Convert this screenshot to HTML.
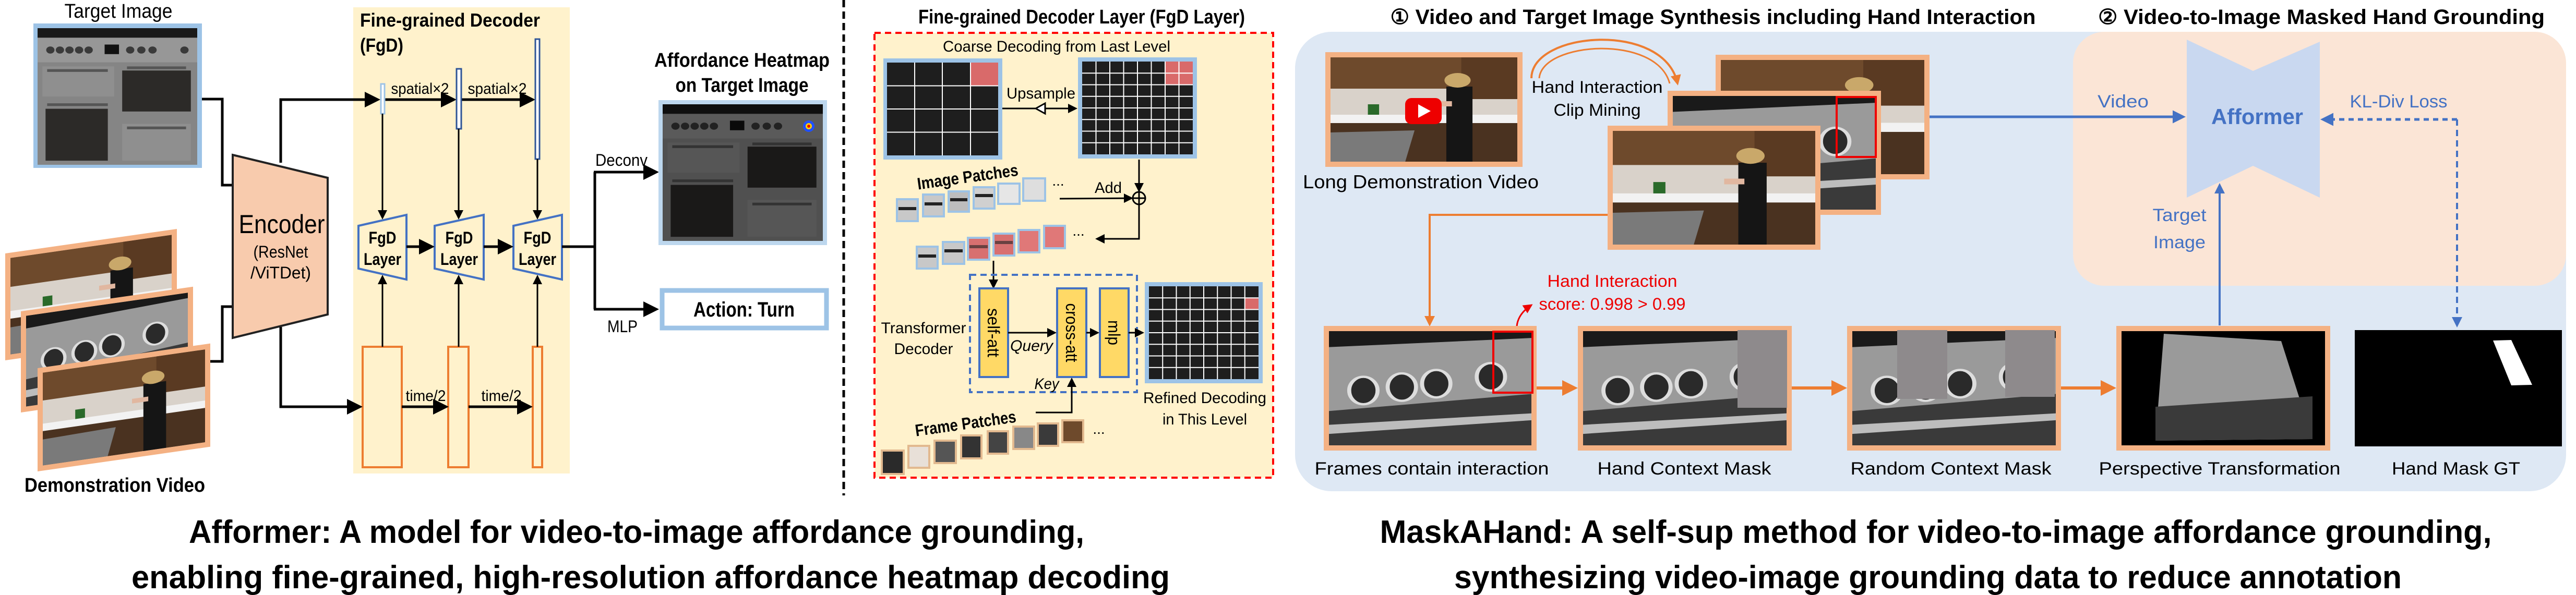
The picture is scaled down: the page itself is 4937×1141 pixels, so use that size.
<!DOCTYPE html>
<html><head><meta charset="utf-8"><style>html,body{margin:0;padding:0;background:#fff}svg{display:block}text{font-family:"Liberation Sans Narrow","Liberation Sans",sans-serif}</style></head><body>
<svg width="4937" height="1141" viewBox="0 0 4937 1141" xmlns="http://www.w3.org/2000/svg">
<defs>
<marker id="ak" markerWidth="6" markerHeight="6" refX="5" refY="3" orient="auto" markerUnits="strokeWidth"><path d="M0,0 L6,3 L0,6 z" fill="#000"/></marker>
<marker id="ab" markerWidth="5" markerHeight="5" refX="4" refY="2.5" orient="auto" markerUnits="strokeWidth"><path d="M0,0 L5,2.5 L0,5 z" fill="#4472c4"/></marker>
<marker id="ab2" markerWidth="5" markerHeight="5" refX="1" refY="2.5" orient="auto" markerUnits="strokeWidth"><path d="M5,0 L0,2.5 L5,5 z" fill="#4472c4"/></marker>
<marker id="ao" markerWidth="5" markerHeight="5" refX="4" refY="2.5" orient="auto" markerUnits="strokeWidth"><path d="M0,0 L5,2.5 L0,5 z" fill="#ed7d31"/></marker>
<marker id="ar" markerWidth="6" markerHeight="6" refX="5" refY="3" orient="auto" markerUnits="strokeWidth"><path d="M0,0 L6,3 L0,6 z" fill="#e00"/></marker>
<symbol id="stove" viewBox="0 0 100 100" preserveAspectRatio="none">
<rect width="100" height="100" fill="#858585"/><rect width="100" height="7" fill="#1a1a1a"/><rect y="7" width="100" height="18" fill="#979797"/>
<g fill="#3a3a3a"><circle cx="8" cy="16" r="2.6"/><circle cx="14" cy="16" r="2.6"/><circle cx="20" cy="16" r="2.6"/><circle cx="26" cy="16" r="2.6"/><circle cx="32" cy="16" r="2.6"/><circle cx="58" cy="16" r="2.6"/><circle cx="65" cy="16" r="2.6"/><circle cx="72" cy="16" r="2.6"/><circle cx="92" cy="16" r="2.6"/><rect x="42" y="12" width="9" height="7" fill="#111"/></g>
<rect x="3" y="28" width="45" height="22" fill="#8f8f8f"/><rect x="6" y="30" width="38" height="2" fill="#555"/><rect x="6" y="55" width="38" height="2" fill="#555"/>
<rect x="5" y="59" width="39" height="38" fill="#2c2a28"/><rect x="53" y="31" width="43" height="30" fill="#2c2a28"/><rect x="53" y="70" width="43" height="27" fill="#8f8f8f"/><rect x="56" y="72" width="37" height="2" fill="#555"/><rect x="56" y="28" width="37" height="2" fill="#555"/>
</symbol>
<symbol id="kitchen" viewBox="0 0 100 100" preserveAspectRatio="none">
<rect width="100" height="100" fill="#d9d2ca"/><rect width="100" height="30" fill="#6e4a2c"/><rect x="70" width="30" height="40" fill="#5a3a22"/>
<rect y="55" width="100" height="8" fill="#f2f2f2"/><rect y="63" width="100" height="37" fill="#4a3220"/>
<polygon points="0,72 45,70 40,100 0,100" fill="#7a7a7a"/><rect x="20" y="45" width="6" height="10" fill="#2a6a2a"/>
<rect x="62" y="28" width="14" height="72" fill="#151515"/><circle cx="68" cy="22" r="7" fill="#c9a86a"/><rect x="55" y="42" width="10" height="5" fill="#e1b7a0"/>
</symbol>
<symbol id="knob" viewBox="0 0 100 100" preserveAspectRatio="none">
<rect width="100" height="100" fill="#9a9a9a"/><polygon points="0,0 100,0 100,6 0,14" fill="#1a1a1a"/>
<polygon points="0,70 100,55 100,100 0,100" fill="#3a3a3a"/><polygon points="0,82 100,72 100,78 0,90" fill="#bdbdbd"/>
<g fill="#2a2a2a" stroke="#ddd" stroke-width="2"><ellipse cx="17" cy="52" rx="7" ry="12"/><ellipse cx="36" cy="49" rx="7" ry="12"/><ellipse cx="53" cy="46" rx="7" ry="12"/><ellipse cx="80" cy="40" rx="7" ry="12"/></g>
</symbol>
</defs>

<!-- ============ LEFT: Afformer ============ -->
<rect x="677" y="14" width="415" height="894" fill="#fff2cc"/>
<text x="227" y="34" font-size="38" text-anchor="middle" textLength="207" lengthAdjust="spacingAndGlyphs">Target Image</text>
<rect x="64" y="45" width="323" height="277" fill="#9dc3e6"/>
<use href="#stove" x="72" y="54" width="306" height="262"/>

<!-- demo video frames -->
<g transform="translate(10,486) matrix(1,-0.143,0,1,0,0)"><rect width="329" height="205" fill="#f4b183"/><use href="#kitchen" x="10" y="10" width="309" height="185"/></g>
<g transform="translate(40,597) matrix(1,-0.143,0,1,0,0)"><rect width="330" height="194" fill="#f4b183"/><use href="#knob" x="10" y="10" width="310" height="174"/></g>
<g transform="translate(72,706) matrix(1,-0.143,0,1,0,0)"><rect width="331" height="198" fill="#f4b183"/><use href="#kitchen" x="10" y="10" width="311" height="178"/></g>
<text x="220" y="943" font-size="38" text-anchor="middle" textLength="346" lengthAdjust="spacingAndGlyphs" font-weight="bold">Demonstration Video</text>

<!-- encoder -->
<polyline points="387,190 426,190 426,355 446,355" fill="none" stroke="#000" stroke-width="5"/>
<polyline points="403,693 426,693 426,588 446,588" fill="none" stroke="#000" stroke-width="5"/>
<polygon points="446,297 628,341 628,603 446,648" fill="#f8cbad" stroke="#222" stroke-width="4"/>
<text x="540" y="447" font-size="50" text-anchor="middle" textLength="165" lengthAdjust="spacingAndGlyphs">Encoder</text>
<text x="538" y="494" font-size="32" text-anchor="middle" textLength="105" lengthAdjust="spacingAndGlyphs">(ResNet</text>
<text x="538" y="534" font-size="32" text-anchor="middle" textLength="116" lengthAdjust="spacingAndGlyphs">/ViTDet)</text>

<text x="690" y="51" font-size="36" font-weight="bold" textLength="345" lengthAdjust="spacingAndGlyphs">Fine-grained Decoder</text>
<text x="690" y="99" font-size="36" font-weight="bold" textLength="83" lengthAdjust="spacingAndGlyphs">(FgD)</text>

<polyline points="538,312 538,191 724,191" fill="none" stroke="#000" stroke-width="5" marker-end="url(#ak)"/>
<line x1="737" y1="191" x2="870" y2="191" stroke="#000" stroke-width="5" marker-end="url(#ak)"/>
<line x1="884" y1="191" x2="1021" y2="191" stroke="#000" stroke-width="5" marker-end="url(#ak)"/>
<rect x="730" y="161" width="7" height="57" fill="#fff" stroke="#9dc3e6" stroke-width="3"/>
<rect x="875" y="132" width="9" height="115" fill="#fff" stroke="#2f5597" stroke-width="3"/>
<rect x="1026" y="75" width="8" height="230" fill="#fff" stroke="#2f5597" stroke-width="3"/>
<text x="805" y="180" font-size="30" text-anchor="middle" textLength="111" lengthAdjust="spacingAndGlyphs">spatial×2</text>
<text x="953" y="180" font-size="30" text-anchor="middle" textLength="113" lengthAdjust="spacingAndGlyphs">spatial×2</text>

<line x1="733" y1="218" x2="733" y2="418" stroke="#000" stroke-width="3" marker-end="url(#ak)"/>
<line x1="879" y1="247" x2="879" y2="418" stroke="#000" stroke-width="3" marker-end="url(#ak)"/>
<line x1="1030" y1="305" x2="1030" y2="418" stroke="#000" stroke-width="3" marker-end="url(#ak)"/>

<g fill="none" stroke="#4472c4" stroke-width="4">
<polygon points="687,433 779,412 779,536 687,515"/><polygon points="833,433 927,412 927,536 833,515"/><polygon points="984,433 1077,412 1077,536 984,515"/></g>
<g font-size="32" font-weight="bold" text-anchor="middle">
<text x="733" y="467" textLength="53" lengthAdjust="spacingAndGlyphs">FgD</text><text x="733" y="508" textLength="72" lengthAdjust="spacingAndGlyphs">Layer</text>
<text x="880" y="467" textLength="53" lengthAdjust="spacingAndGlyphs">FgD</text><text x="880" y="508" textLength="72" lengthAdjust="spacingAndGlyphs">Layer</text>
<text x="1030" y="467" textLength="53" lengthAdjust="spacingAndGlyphs">FgD</text><text x="1030" y="508" textLength="72" lengthAdjust="spacingAndGlyphs">Layer</text></g>
<line x1="779" y1="473" x2="828" y2="473" stroke="#000" stroke-width="5" marker-end="url(#ak)"/>
<line x1="927" y1="473" x2="979" y2="473" stroke="#000" stroke-width="5" marker-end="url(#ak)"/>

<g fill="none" stroke="#ed7d31" stroke-width="4"><rect x="695" y="665" width="75" height="231"/><rect x="859" y="665" width="39" height="231"/><rect x="1021" y="665" width="18" height="231"/></g>
<line x1="733" y1="665" x2="733" y2="530" stroke="#000" stroke-width="3" marker-end="url(#ak)"/>
<line x1="879" y1="665" x2="879" y2="530" stroke="#000" stroke-width="3" marker-end="url(#ak)"/>
<line x1="1030" y1="665" x2="1030" y2="530" stroke="#000" stroke-width="3" marker-end="url(#ak)"/>
<polyline points="538,627 538,780 690,780" fill="none" stroke="#000" stroke-width="5" marker-end="url(#ak)"/>
<line x1="770" y1="780" x2="855" y2="780" stroke="#000" stroke-width="5" marker-end="url(#ak)"/>
<line x1="898" y1="780" x2="1016" y2="780" stroke="#000" stroke-width="5" marker-end="url(#ak)"/>
<text x="816" y="769" font-size="30" text-anchor="middle" textLength="77" lengthAdjust="spacingAndGlyphs">time/2</text>
<text x="961" y="769" font-size="30" text-anchor="middle" textLength="77" lengthAdjust="spacingAndGlyphs">time/2</text>

<polyline points="1077,473 1140,473" fill="none" stroke="#000" stroke-width="5"/>
<line x1="1140" y1="330" x2="1140" y2="593" stroke="#000" stroke-width="5"/>
<line x1="1138" y1="330" x2="1258" y2="330" stroke="#000" stroke-width="5" marker-end="url(#ak)"/>
<line x1="1138" y1="593" x2="1258" y2="593" stroke="#000" stroke-width="5" marker-end="url(#ak)"/>
<text x="1191" y="318" font-size="32" text-anchor="middle" textLength="100" lengthAdjust="spacingAndGlyphs">Deconv</text>
<text x="1193" y="637" font-size="32" text-anchor="middle" textLength="58" lengthAdjust="spacingAndGlyphs">MLP</text>

<text x="1422" y="128" font-size="38" font-weight="bold" text-anchor="middle" textLength="336" lengthAdjust="spacingAndGlyphs">Affordance Heatmap</text>
<text x="1422" y="176" font-size="38" font-weight="bold" text-anchor="middle" textLength="255" lengthAdjust="spacingAndGlyphs">on Target Image</text>
<rect x="1262" y="192" width="323" height="278" fill="#bdd7ee"/>
<use href="#stove" x="1270" y="200" width="307" height="262"/>
<rect x="1270" y="200" width="307" height="262" fill="#000" opacity="0.4"/>
<circle cx="1550" cy="242" r="11" fill="#2050ff"/><circle cx="1550" cy="242" r="6" fill="#ffd000"/><circle cx="1550" cy="242" r="3" fill="#e00"/>
<rect x="1269" y="557" width="315" height="72" fill="#fff" stroke="#9dc3e6" stroke-width="9"/>
<text x="1426" y="607" font-size="40" font-weight="bold" text-anchor="middle" textLength="194" lengthAdjust="spacingAndGlyphs">Action: Turn</text>

<line x1="1617" y1="0" x2="1617" y2="950" stroke="#000" stroke-width="5" stroke-dasharray="14,8"/>

<!-- ============ MIDDLE: FgD Layer ============ -->
<text x="2073" y="45" font-size="38" font-weight="bold" text-anchor="middle" textLength="626" lengthAdjust="spacingAndGlyphs">Fine-grained Decoder Layer (FgD Layer)</text>
<rect x="1676" y="63" width="764" height="853" fill="#fff2cc" stroke="#ff0000" stroke-width="4" stroke-dasharray="12,8"/>
<text x="2025" y="99" font-size="30" text-anchor="middle" textLength="436" lengthAdjust="spacingAndGlyphs">Coarse Decoding from Last Level</text>

<rect x="1693" y="112" width="228" height="194" fill="#9dc3e6"/>
<rect x="1700" y="120" width="213" height="178" fill="#1e1e1e"/><rect x="1860" y="120" width="53" height="44" fill="#d96a6a"/>
<path d="M1753,120V298M1806,120V298M1860,120V298M1700,164.5H1913M1700,209H1913M1700,253.5H1913" stroke="#fff" stroke-width="2"/>

<rect x="2066" y="110" width="228" height="194" fill="#9dc3e6"/>
<rect x="2074" y="118" width="212" height="178" fill="#1e1e1e"/><rect x="2233" y="118" width="53" height="44.5" fill="#d96a6a"/>
<path d="M2100.5,118V296M2127,118V296M2153.5,118V296M2180,118V296M2206.5,118V296M2233,118V296M2259.5,118V296M2074,140.25H2286M2074,162.5H2286M2074,184.75H2286M2074,207H2286M2074,229.25H2286M2074,251.5H2286M2074,273.75H2286" stroke="#fff" stroke-width="2"/>

<line x1="1921" y1="208" x2="2062" y2="208" stroke="#000" stroke-width="3" marker-end="url(#ak)"/>
<polygon points="1985,208 2003,198 2003,218" fill="#fff" stroke="#000" stroke-width="3"/>
<text x="1995" y="189" font-size="30" text-anchor="middle" textLength="132" lengthAdjust="spacingAndGlyphs">Upsample</text>

<line x1="2183" y1="306" x2="2183" y2="366" stroke="#000" stroke-width="3" marker-end="url(#ak)"/>
<circle cx="2183" cy="380" r="12" fill="none" stroke="#000" stroke-width="3"/><path d="M2171,380H2195M2183,368V392" stroke="#000" stroke-width="3"/>
<line x1="2031" y1="381" x2="2169" y2="380" stroke="#000" stroke-width="3" marker-end="url(#ak)"/>
<text x="2124" y="370" font-size="30" text-anchor="middle" textLength="52" lengthAdjust="spacingAndGlyphs">Add</text>
<polyline points="2183,392 2183,458 2102,458" fill="none" stroke="#000" stroke-width="3" marker-end="url(#ak)"/>

<text transform="translate(1856,350) rotate(-8)" font-size="32" font-weight="bold" text-anchor="middle" textLength="195" lengthAdjust="spacingAndGlyphs">Image Patches</text>
<g stroke="#9dc3e6" stroke-width="4">
<rect x="1719" y="382" width="40" height="42" fill="#c8c8c8"/><rect x="1769" y="373" width="40" height="42" fill="#c8c8c8"/><rect x="1818" y="367" width="39" height="39" fill="#bdbdbd"/><rect x="1866" y="359" width="40" height="41" fill="#d0d0d0"/><rect x="1913" y="352" width="41" height="39" fill="#e6e6e6"/><rect x="1961" y="342" width="42" height="43" fill="#dedede"/>
<rect x="1757" y="473" width="40" height="42" fill="#c8c8c8"/><rect x="1807" y="464" width="41" height="42" fill="#c8c8c8"/><rect x="1855" y="456" width="41" height="42" fill="#d87070"/><rect x="1904" y="448" width="40" height="42" fill="#d87070"/><rect x="1952" y="441" width="40" height="43" fill="#e07878"/><rect x="2001" y="433" width="40" height="43" fill="#e07878"/></g>
<g fill="#222"><rect x="1722" y="397" width="34" height="6"/><rect x="1772" y="388" width="34" height="6"/><rect x="1821" y="380" width="33" height="6"/><rect x="1869" y="372" width="34" height="6"/><rect x="1760" y="488" width="34" height="6"/><rect x="1810" y="478" width="35" height="6"/><rect x="1858" y="470" width="35" height="6" opacity=".6"/><rect x="1907" y="462" width="34" height="6" opacity=".6"/></g>
<text x="2028" y="356" font-size="28" text-anchor="middle">...</text>
<text x="2067" y="452" font-size="28" text-anchor="middle">...</text>

<line x1="1904" y1="500" x2="1904" y2="551" stroke="#000" stroke-width="3" marker-end="url(#ak)"/>
<rect x="1859" y="527" width="320" height="225" fill="none" stroke="#4472c4" stroke-width="4" stroke-dasharray="12,8"/>
<g fill="#ffd966" stroke="#4472c4" stroke-width="4"><rect x="1877" y="553" width="55" height="170"/><rect x="2026" y="553" width="56" height="170"/><rect x="2108" y="553" width="55" height="170"/></g>
<g font-size="32" text-anchor="middle">
<text transform="translate(1893,638) rotate(90)" textLength="94" lengthAdjust="spacingAndGlyphs">self-att</text>
<text transform="translate(2043,638) rotate(90)" textLength="113" lengthAdjust="spacingAndGlyphs">cross-att</text>
<text transform="translate(2124,638) rotate(90)" textLength="48" lengthAdjust="spacingAndGlyphs">mlp</text></g>
<line x1="1932" y1="638" x2="2022" y2="638" stroke="#000" stroke-width="3" marker-end="url(#ak)"/>
<line x1="2082" y1="638" x2="2104" y2="638" stroke="#000" stroke-width="3" marker-end="url(#ak)"/>
<line x1="2163" y1="638" x2="2190" y2="638" stroke="#000" stroke-width="3" marker-end="url(#ak)"/>
<text x="1977" y="673" font-size="30" font-style="italic" text-anchor="middle" textLength="82" lengthAdjust="spacingAndGlyphs">Query</text>
<text x="2006" y="746" font-size="30" font-style="italic" text-anchor="middle" textLength="47" lengthAdjust="spacingAndGlyphs">Key</text>
<polyline points="1985,791 2054,791 2054,727" fill="none" stroke="#000" stroke-width="3" marker-end="url(#ak)"/>
<text x="1770" y="639" font-size="30" text-anchor="middle" textLength="163" lengthAdjust="spacingAndGlyphs">Transformer</text>
<text x="1770" y="679" font-size="30" text-anchor="middle" textLength="113" lengthAdjust="spacingAndGlyphs">Decoder</text>

<rect x="2194" y="541" width="226" height="194" fill="#9dc3e6"/>
<rect x="2202" y="549" width="210" height="178" fill="#1e1e1e"/><rect x="2385.75" y="571.25" width="26.25" height="22.25" fill="#d96a6a"/>
<path d="M2228.25,549V727M2254.5,549V727M2280.75,549V727M2307,549V727M2333.25,549V727M2359.5,549V727M2385.75,549V727M2202,571.25H2412M2202,593.5H2412M2202,615.75H2412M2202,638H2412M2202,660.25H2412M2202,682.5H2412M2202,704.75H2412" stroke="#fff" stroke-width="2"/>
<text x="2309" y="773" font-size="30" text-anchor="middle" textLength="236" lengthAdjust="spacingAndGlyphs">Refined Decoding</text>
<text x="2309" y="814" font-size="30" text-anchor="middle" textLength="162" lengthAdjust="spacingAndGlyphs">in This Level</text>

<text transform="translate(1852,823) rotate(-8)" font-size="32" font-weight="bold" text-anchor="middle" textLength="195" lengthAdjust="spacingAndGlyphs">Frame Patches</text>
<g stroke="#e2b98f" stroke-width="4">
<rect x="1690" y="864" width="42" height="45" fill="#2a2a2a"/><rect x="1741" y="855" width="40" height="42" fill="#e8e0d8"/><rect x="1791" y="845" width="41" height="43" fill="#555"/><rect x="1842" y="835" width="39" height="44" fill="#333"/><rect x="1893" y="827" width="39" height="43" fill="#444"/><rect x="1942" y="818" width="40" height="43" fill="#888"/><rect x="1989" y="812" width="39" height="43" fill="#3a3a3a"/><rect x="2036" y="806" width="40" height="42" fill="#6e4a2c"/></g>
<text x="2106" y="832" font-size="28" text-anchor="middle">...</text>

<!-- ============ RIGHT: MaskAHand ============ -->
<rect x="2482" y="61" width="2436" height="881" rx="70" fill="#dee8f4"/>
<rect x="3973" y="61" width="945" height="487" rx="60" fill="#fbe5d6"/>
<text x="3283" y="46" font-size="40" font-weight="bold" text-anchor="middle" textLength="1237" lengthAdjust="spacingAndGlyphs">① Video and Target Image Synthesis including Hand Interaction</text>
<text x="4449" y="46" font-size="40" font-weight="bold" text-anchor="middle" textLength="856" lengthAdjust="spacingAndGlyphs">② Video-to-Image Masked Hand Grounding</text>

<rect x="2540" y="100" width="378" height="220" fill="#f4b183"/><use href="#kitchen" x="2550" y="110" width="358" height="200"/>
<rect x="2693" y="188" width="70" height="50" rx="12" fill="#e00"/><polygon points="2718,200 2718,226 2742,213" fill="#fff"/>
<text x="2723" y="361" font-size="36" text-anchor="middle" textLength="452" lengthAdjust="spacingAndGlyphs">Long Demonstration Video</text>

<path d="M2935,150 C2935,60 3190,40 3215,160" fill="none" stroke="#ed7d31" stroke-width="4" marker-end="url(#ao)"/>
<path d="M2950,150 C2955,80 3175,65 3200,160" fill="none" stroke="#ed7d31" stroke-width="3"/>
<text x="3061" y="178" font-size="32" text-anchor="middle" textLength="251" lengthAdjust="spacingAndGlyphs">Hand Interaction</text>
<text x="3061" y="222" font-size="32" text-anchor="middle" textLength="167" lengthAdjust="spacingAndGlyphs">Clip Mining</text>

<rect x="3288" y="105" width="410" height="239" fill="#f4b183"/><use href="#kitchen" x="3298" y="115" width="390" height="219"/>
<rect x="3196" y="174" width="409" height="238" fill="#f4b183"/><use href="#knob" x="3206" y="184" width="389" height="218"/>
<rect x="3520" y="186" width="75" height="115" fill="none" stroke="#e00" stroke-width="4"/>
<rect x="3081" y="241" width="408" height="238" fill="#f4b183"/><use href="#kitchen" x="3091" y="251" width="388" height="218"/>

<line x1="3698" y1="224" x2="4184" y2="224" stroke="#4472c4" stroke-width="5" marker-end="url(#ab)"/>
<text x="4069" y="206" font-size="34" fill="#4472c4" text-anchor="middle" textLength="98" lengthAdjust="spacingAndGlyphs">Video</text>
<polygon points="4191,76 4318,136 4446,80 4446,379 4318,318 4191,379" fill="#c9d8f0"/>
<text x="4326" y="238" font-size="42" font-weight="bold" fill="#4472c4" text-anchor="middle" textLength="176" lengthAdjust="spacingAndGlyphs">Afformer</text>
<polyline points="4709,229 4452,229" fill="none" stroke="#4472c4" stroke-width="5" stroke-dasharray="10,8" marker-end="url(#ab)"/>
<polyline points="4709,229 4709,624" fill="none" stroke="#4472c4" stroke-width="4" stroke-dasharray="12,8" marker-end="url(#ab)"/>
<text x="4597" y="206" font-size="34" fill="#4472c4" text-anchor="middle" textLength="187" lengthAdjust="spacingAndGlyphs">KL-Div Loss</text>
<line x1="4254" y1="624" x2="4254" y2="355" stroke="#4472c4" stroke-width="4" marker-end="url(#ab)"/>
<text x="4177" y="424" font-size="34" fill="#4472c4" text-anchor="middle" textLength="103" lengthAdjust="spacingAndGlyphs">Target</text>
<text x="4177" y="476" font-size="34" fill="#4472c4" text-anchor="middle" textLength="100" lengthAdjust="spacingAndGlyphs">Image</text>

<polyline points="3081,412 2740,412 2740,622" fill="none" stroke="#ed7d31" stroke-width="4" marker-end="url(#ao)"/>
<text x="3090" y="550" font-size="32" fill="#e00" text-anchor="middle" textLength="249" lengthAdjust="spacingAndGlyphs">Hand Interaction</text>
<text x="3090" y="594" font-size="32" fill="#e00" text-anchor="middle" textLength="281" lengthAdjust="spacingAndGlyphs">score: 0.998 &gt; 0.99</text>
<path d="M2907,636 C2905,615 2915,598 2935,585" fill="none" stroke="#e00" stroke-width="3" marker-end="url(#ar)"/>

<rect x="2537" y="625" width="408" height="239" fill="#f4b183"/><use href="#knob" x="2547" y="635" width="388" height="219"/>
<rect x="2862" y="636" width="75" height="117" fill="none" stroke="#e00" stroke-width="4"/>
<rect x="3024" y="625" width="410" height="239" fill="#f4b183"/><use href="#knob" x="3034" y="635" width="390" height="219"/>
<rect x="3330" y="633" width="95" height="149" fill="#8e8a8c"/>
<rect x="3540" y="625" width="410" height="239" fill="#f4b183"/><use href="#knob" x="3550" y="635" width="390" height="219"/>
<rect x="3636" y="633" width="96" height="132" fill="#8e8a8c"/><rect x="3843" y="633" width="95" height="128" fill="#8e8a8c"/>
<rect x="4056" y="625" width="410" height="239" fill="#f4b183"/><rect x="4066" y="635" width="390" height="219" fill="#000"/>
<polygon points="4147,640 4372,654 4432,842 4131,845" fill="#9a9a9a"/><polygon points="4131,780 4432,760 4432,842 4131,845" fill="#3a3a3a"/>
<rect x="4513" y="633" width="397" height="223" fill="#000"/><polygon points="4778,653 4813,652 4853,738 4813,739" fill="#fff"/>

<line x1="2945" y1="744" x2="3018" y2="744" stroke="#ed7d31" stroke-width="6" marker-end="url(#ao)"/>
<line x1="3434" y1="744" x2="3534" y2="744" stroke="#ed7d31" stroke-width="6" marker-end="url(#ao)"/>
<line x1="3950" y1="744" x2="4050" y2="744" stroke="#ed7d31" stroke-width="6" marker-end="url(#ao)"/>
<g font-size="34" text-anchor="middle">
<text x="2744" y="910" textLength="449" lengthAdjust="spacingAndGlyphs">Frames contain interaction</text>
<text x="3228" y="910" textLength="333" lengthAdjust="spacingAndGlyphs">Hand Context Mask</text>
<text x="3739" y="910" textLength="385" lengthAdjust="spacingAndGlyphs">Random Context Mask</text>
<text x="4254" y="910" textLength="463" lengthAdjust="spacingAndGlyphs">Perspective Transformation</text>
<text x="4707" y="910" textLength="246" lengthAdjust="spacingAndGlyphs">Hand Mask GT</text></g>

<!-- captions -->
<g font-size="62" font-weight="bold" text-anchor="middle">
<text x="1220" y="1041" textLength="1716" lengthAdjust="spacingAndGlyphs">Afformer: A model for video-to-image affordance grounding,</text>
<text x="1247" y="1128" textLength="1990" lengthAdjust="spacingAndGlyphs">enabling fine-grained, high-resolution affordance heatmap decoding</text>
<text x="3710" y="1041" textLength="2131" lengthAdjust="spacingAndGlyphs">MaskAHand: A self-sup method for video-to-image affordance grounding,</text>
<text x="3695" y="1128" textLength="1816" lengthAdjust="spacingAndGlyphs">synthesizing video-image grounding data to reduce annotation</text></g>
</svg>
</body></html>
